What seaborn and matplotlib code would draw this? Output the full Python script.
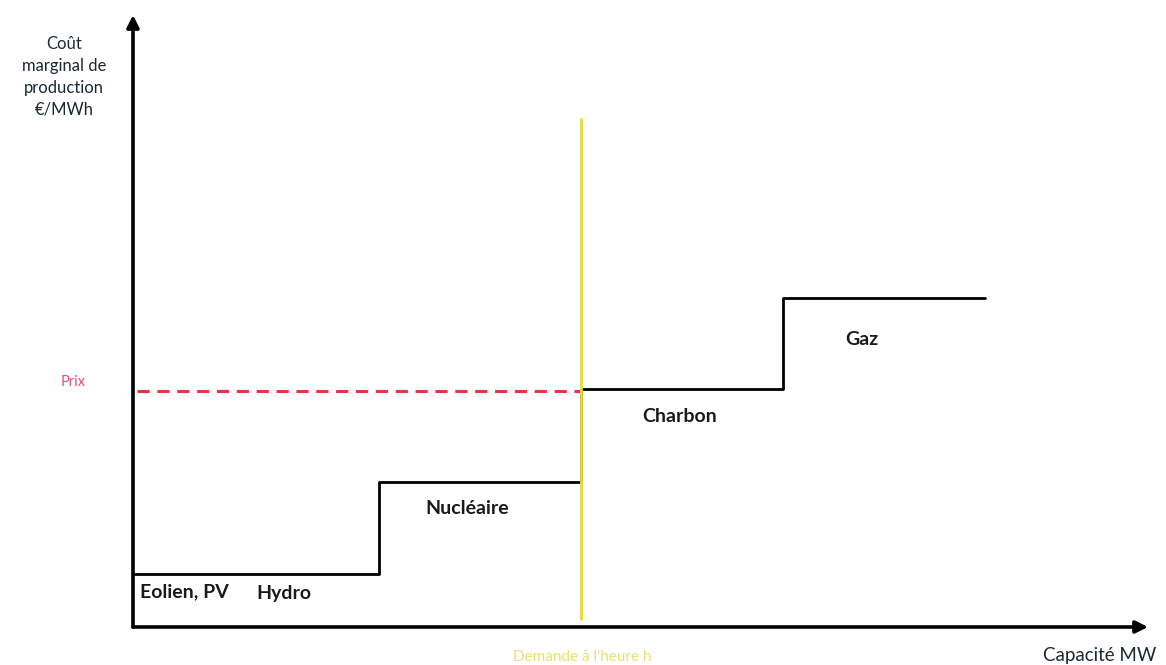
import numpy as np
import pandas as pd
import matplotlib
matplotlib.use("Agg")
import matplotlib.pyplot as plt
import seaborn as sns

# %% donnees (unites arbitraires)

capacite = [0, 2.46, 4.48, 6.50, 8.52]
cout_marginal = [0.53, 1.45, 2.38, 3.29, 3.29]
filieres = ["Eolien, PV", "Hydro", "Nucléaire", "Charbon", "Gaz"]
filiere_x = [0.07, 1.23, 2.92, 5.09, 7.12]
filiere_y = [0.35, 0.34, 1.19, 2.10, 2.87]
prix = 2.36
demande = 4.48

# %% figure

sns.set_theme(style="white")
plt.rcParams["font.family"] = ["Lato", "DejaVu Sans"]

fig = plt.figure(figsize=(11.66, 6.65), dpi=100)
ax = fig.add_axes([0, 0, 1, 1])
ax.set_xlim(-1.33, 10.33)
ax.set_ylim(-0.38, 6.27)
ax.axis("off")

# axes avec fleches
ax.annotate("", xy=(0, 6.12), xytext=(0, 0),
            arrowprops=dict(arrowstyle="-|>", color="black", lw=2.6,
                            mutation_scale=18, shrinkA=0, shrinkB=0))
ax.annotate("", xy=(10.15, 0), xytext=(0, 0),
            arrowprops=dict(arrowstyle="-|>", color="black", lw=2.6,
                            mutation_scale=18, shrinkA=0, shrinkB=0))

# courbe merit order
df = pd.DataFrame({"capacite": capacite, "cout": cout_marginal})
sns.lineplot(data=df, x="capacite", y="cout", drawstyle="steps-post",
             color="black", lw=2, estimator=None, ax=ax)

# demande et prix
ax.vlines(demande, 0.07, 5.09, color="#e4dc3a", lw=2, zorder=3)
ax.hlines(prix, 0.04, demande, color="#e8344a", lw=2.2,
          linestyles=(0, (4, 2.5)))

for nom, x, y in zip(filieres, filiere_x, filiere_y):
    ax.text(x, y, nom, fontsize=14, fontweight="bold", ha="left",
            va="center", color="#1a1a1a")

ax.text(-0.69, 5.50, "Coût\nmarginal de\nproduction\n€/MWh", fontsize=12,
        ha="center", va="center", linespacing=1.45, color="#1a2a30")
ax.text(-0.60, prix + 0.09, "Prix", fontsize=10.5, ha="center", va="center",
        color="#e05080")
ax.text(4.49, -0.30, "Demande à l'heure h", fontsize=11, ha="center",
        va="center", color="#e8e070")
ax.text(9.67, -0.29, "Capacité MW", fontsize=13.5, ha="center",
        va="center", color="#1a2a30")

plt.savefig("out.png", dpi=100)
